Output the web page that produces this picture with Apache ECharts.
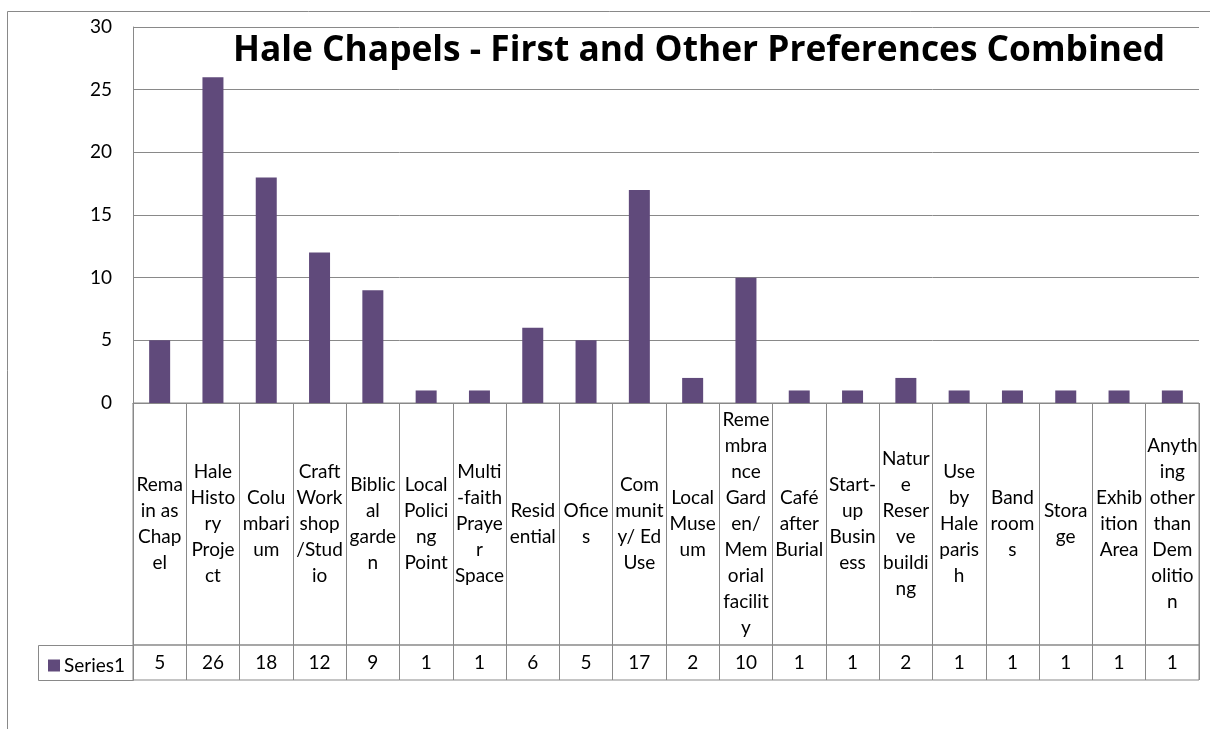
<!DOCTYPE html>
<html>
<head>
<meta charset="utf-8">
<script src="https://cdn.jsdelivr.net/npm/echarts@6/dist/echarts.min.js"></script>
<style>
html,body{margin:0;padding:0;background:#fff;}
#chart{width:1210px;height:729px;}
</style>
</head>
<body>
<div id="chart"></div>
<script>
// ---- data ----
const title = 'Hale Chapels - First and Other Preferences Combined';
const seriesName = 'Series1';
const categories = [
  'Rema\nin as\nChap\nel',
  'Hale\nHisto\nry\nProje\nct',
  'Colu\nmbari\num',
  'Craft\nWork\nshop\n/Stud\nio',
  'Biblic\nal\ngarde\nn',
  'Local\nPolici\nng\nPoint',
  'Multi\n-faith\nPraye\nr\nSpace',
  'Resid\nential',
  'Ofice\ns',
  'Com\nmunit\ny/ Ed\nUse',
  'Local\nMuse\num',
  'Reme\nmbra\nnce\nGard\nen/\nMem\norial\nfacilit\ny',
  'Café\nafter\nBurial',
  'Start-\nup\nBusin\ness',
  'Natur\ne\nReser\nve\nbuildi\nng',
  'Use\nby\nHale\nparis\nh',
  'Band\nroom\ns',
  'Stora\nge',
  'Exhib\nition\nArea',
  'Anyth\ning\nother\nthan\nDem\nolitio\nn'
];
const values = [5, 26, 18, 12, 9, 1, 1, 6, 5, 17, 2, 10, 1, 1, 2, 1, 1, 1, 1, 1];
const yTicks = [0, 5, 10, 15, 20, 25, 30];

// ---- style ----
const FONT = 'Lato';
const BAR = '#604A7B';
const LINE = '#898989';

const chart = echarts.init(document.getElementById('chart'), null, {renderer: 'canvas'});

const tableText = (textArr) => function (params, api) {
  const i = api.value(0);
  const p = api.coord([i, 0.5]);
  return {
    type: 'text',
    x: p[0], y: p[1],
    style: {
      text: textArr(i, api),
      align: 'center', verticalAlign: 'middle',
      fontFamily: FONT, fontSize: 19, lineHeight: 26, fill: '#000'
    }
  };
};

const option = {
  animation: false,
  backgroundColor: '#fff',
  title: {
    text: title,
    left: 228, top: 28,
    textStyle: {fontFamily: 'Open Sans', fontWeight: 'bold', fontSize: 35.3, color: '#000'}
  },
  legend: {
    data: [seriesName],
    left: 43, top: 651,
    icon: 'rect', itemWidth: 12, itemHeight: 12, itemGap: 4,
    textStyle: {fontFamily: FONT, fontSize: 19, color: '#000', padding: [0,0,0,-1]},
    selectedMode: false
  },
  graphic: [
    {type: 'rect', shape: {x: 7.5, y: 11.5, width: 1400, height: 900}, style: {fill: 'none', stroke: LINE, lineWidth: 1}, silent: true, z: -10},
    {type: 'rect', shape: {x: 38.5, y: 645.5, width: 95, height: 35}, style: {fill: 'none', stroke: LINE, lineWidth: 1}, silent: true}
  ],
  grid: [
    {left: 133, right: 11, top: 27, bottom: 326},
    {left: 133, right: 11, top: 403, bottom: 84, show: true, borderColor: LINE, borderWidth: 1, backgroundColor: 'transparent'},
    {left: 133, right: 11, top: 645, bottom: 49, show: true, borderColor: LINE, borderWidth: 1, backgroundColor: 'transparent'}
  ],
  xAxis: [
    {type: 'category', gridIndex: 0, data: categories, axisLine: {show: true, lineStyle: {color: LINE}}, axisTick: {show: false}, axisLabel: {show: false}},
    {type: 'category', gridIndex: 1, data: categories, axisLine: {show: false}, axisTick: {show: false}, axisLabel: {show: false},
     splitLine: {show: true, interval: 0, lineStyle: {color: LINE}}},
    {type: 'category', gridIndex: 2, data: categories, axisLine: {show: false}, axisTick: {show: false}, axisLabel: {show: false},
     splitLine: {show: true, interval: 0, lineStyle: {color: LINE}}}
  ],
  yAxis: [
    {type: 'value', gridIndex: 0, min: yTicks[0], max: yTicks[yTicks.length - 1], interval: yTicks[1] - yTicks[0],
     axisLine: {show: true, lineStyle: {color: LINE}}, axisTick: {show: false},
     axisLabel: {fontFamily: FONT, fontSize: 19, color: '#000', margin: 21},
     splitLine: {show: true, lineStyle: {color: LINE}}},
    {type: 'value', gridIndex: 1, min: 0, max: 1, show: false},
    {type: 'value', gridIndex: 2, min: 0, max: 1, show: false}
  ],
  series: [
    {name: seriesName, type: 'bar', xAxisIndex: 0, yAxisIndex: 0, data: values, barWidth: 21,
     itemStyle: {color: BAR}},
    {type: 'custom', xAxisIndex: 1, yAxisIndex: 1, data: categories.map((c, i) => [i, 0.5]),
     renderItem: tableText((i) => categories[i]), silent: true},
    {type: 'custom', xAxisIndex: 2, yAxisIndex: 2, data: values.map((v, i) => [i, v]),
     encode: {x: 0, y: 1},
     renderItem: tableText((i, api) => String(api.value(1))), silent: true}
  ]
};
chart.setOption(option);
</script>
</body>
</html>
